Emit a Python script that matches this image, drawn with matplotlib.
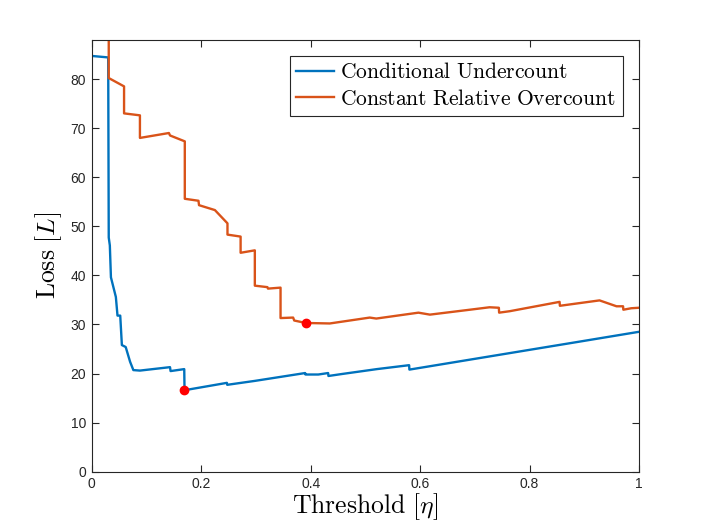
import numpy as np
import matplotlib
matplotlib.use('Agg')
from matplotlib import pyplot as plt

plt.rcParams['mathtext.fontset'] = 'cm'
plt.rcParams['font.family'] = ['Liberation Sans', 'DejaVu Sans']

# Conditional Undercount (threshold, loss)
under_eta = [0.0, 0.0, 0.030, 0.031, 0.033, 0.035, 0.044, 0.047, 0.052, 0.055,
             0.062, 0.070, 0.076, 0.088, 0.143, 0.144, 0.169, 0.1695, 0.247, 0.2475,
             0.298, 0.390, 0.3905, 0.414, 0.432, 0.4325, 0.457, 0.521, 0.580, 0.5805,
             0.886, 1.0]
under_loss = [100.0, 84.7, 84.4, 47.7, 46.1, 39.6, 35.6, 31.8, 31.8, 25.8,
              25.4, 22.4, 20.7, 20.6, 21.3, 20.5, 20.9, 16.6, 18.1, 17.7,
              18.5, 20.1, 19.8, 19.8, 20.1, 19.5, 19.9, 20.9, 21.7, 20.8,
              26.4, 28.5]

# Constant Relative Overcount (threshold, loss)
over_eta = [0.031, 0.031, 0.059, 0.059, 0.088, 0.088, 0.141, 0.143, 0.170, 0.170,
            0.195, 0.196, 0.225, 0.248, 0.248, 0.272, 0.272, 0.298, 0.298, 0.321,
            0.322, 0.345, 0.345, 0.368, 0.370, 0.391, 0.435, 0.508, 0.520, 0.597,
            0.618, 0.691, 0.727, 0.744, 0.7445, 0.764, 0.855, 0.8555, 0.928, 0.959,
            0.971, 0.9715, 0.986, 1.0]
over_loss = [100.0, 80.2, 78.5, 73.0, 72.6, 68.0, 69.0, 68.5, 67.3, 55.6,
             55.2, 54.3, 53.3, 50.6, 48.3, 47.9, 44.6, 45.1, 37.9, 37.6,
             37.3, 37.5, 31.3, 31.4, 30.8, 30.3, 30.2, 31.4, 31.2, 32.4,
             32.0, 33.0, 33.5, 33.4, 32.4, 32.7, 34.6, 33.8, 34.9, 33.7,
             33.7, 33.0, 33.3, 33.4]

# minima markers
min_eta = [0.169, 0.391]
min_loss = [16.6, 30.2]

blue = '#0072BD'
orange = '#D95319'
axcol = '#262626'

fig = plt.figure(figsize=(7.06, 5.30), dpi=100)
ax = fig.add_axes([0.13, 0.11, 0.775, 0.815])

ax.plot(under_eta, under_loss, color=blue, lw=1.7,
        label=r'$\mathrm{Conditional\ Undercount}$')
ax.plot(over_eta, over_loss, color=orange, lw=1.7,
        label=r'$\mathrm{Constant\ Relative\ Overcount}$')
ax.plot(min_eta, min_loss, 'o', color='red', markersize=6, zorder=5)

ax.set_xlim(0, 1)
ax.set_ylim(0, 88)
ax.set_xticks(np.arange(0, 1.01, 0.2))
ax.set_xticklabels(['0', '0.2', '0.4', '0.6', '0.8', '1'])
ax.set_yticks(np.arange(0, 81, 10))

for s in ax.spines.values():
    s.set_color(axcol)
    s.set_linewidth(0.8)
ax.tick_params(direction='in', top=True, right=True, length=5, width=0.8,
               color=axcol, labelcolor=axcol, labelsize=10, pad=4)

ax.set_xlabel(r'$\mathrm{Threshold}\ [\eta]$', fontsize=18.5, color='black', labelpad=0)
ax.set_ylabel(r'$\mathrm{Loss}\ [L]$', fontsize=18.5, color='black', labelpad=5)

leg = ax.legend(loc='upper right', bbox_to_anchor=(0.970, 0.963), borderaxespad=0,
                fontsize=15.5, fancybox=False, framealpha=1, edgecolor=axcol,
                handlelength=1.75, handletextpad=0.3, borderpad=0.3, labelspacing=0.25)
leg.get_frame().set_linewidth(0.8)

fig.savefig('out.png', dpi=100)
